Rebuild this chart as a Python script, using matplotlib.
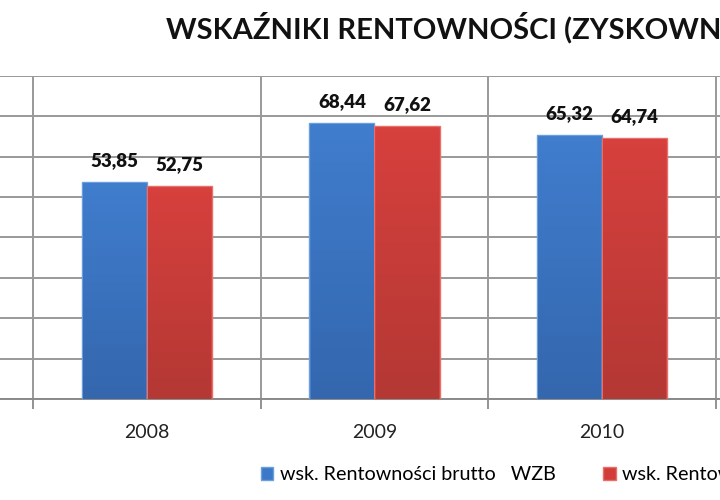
import numpy as np
import matplotlib.pyplot as plt
from matplotlib.colors import LinearSegmentedColormap

plt.rcParams['font.family'] = ['Lato', 'DejaVu Sans']

years = ['2008', '2009', '2010']
brutto = [53.85, 68.44, 65.32]
netto = [52.75, 67.62, 64.74]
labels = ['wsk. Rentowności brutto   WZB', 'wsk. Rentowności netto   WZN']
title = 'WSKAŹNIKI RENTOWNOŚCI (ZYSKOWNOŚCI)'

fig = plt.figure(figsize=(7.2, 5), dpi=100)
ax = fig.add_axes([0, 0.202, 1, 0.646])

x = np.arange(len(years))
w = 0.286
b1 = ax.bar(x - w / 2, brutto, w, color='#3C78C8', edgecolor='#6A9FE0', linewidth=1.0, zorder=3, label=labels[0])
b2 = ax.bar(x + w / 2, netto, w, color='#D23D3A', edgecolor='#E8706B', linewidth=1.0, zorder=3, label=labels[1])

# soft vertical shading on every bar
for cont, top, bot in [(b1, '#407DCD', '#3467AE'), (b2, '#D6403D', '#B43834')]:
    cm = LinearSegmentedColormap.from_list('g', [bot, top])
    for r in cont:
        x0, h, wd = r.get_x(), r.get_height(), r.get_width()
        grad = np.linspace(1, 0, 50).reshape(-1, 1)
        im = ax.imshow(grad, extent=[x0 + 0.006, x0 + wd - 0.006, 0, h - 0.5], aspect='auto',
                       cmap=cm, zorder=3.5)
        im.set_clip_path(r)

for xs, vals in [(x - w / 2, brutto), (x + w / 2, netto)]:
    for xi, v in zip(xs, vals):
        ax.text(xi, v + 3.2, f'{v:.2f}'.replace('.', ','), ha='center', va='bottom',
                fontsize=13.5, fontweight='heavy', color='#111111', zorder=5)

ax.set_xlim(-0.646, 2.519)
ax.set_ylim(0, 80)
ax.set_yticks(np.arange(0, 81, 10))
ax.set_yticklabels([])
ax.tick_params(axis='y', length=0)
ax.set_xticks(x)
ax.set_xticklabels(years, fontsize=14, color='#222222')
ax.set_xticks(np.arange(-0.5, 3.0, 1.0), minor=True)
ax.tick_params(axis='x', which='major', length=0, pad=18)
ax.tick_params(axis='x', which='minor', length=7, width=1.3, color='#8a8a8a', direction='out')
ax.grid(axis='y', color='#999999', linewidth=1.4, zorder=0)
ax.grid(axis='x', which='minor', color='#999999', linewidth=1.4, zorder=0)
for s in ['left', 'right', 'top']:
    ax.spines[s].set_visible(False)
ax.spines['bottom'].set_color('#8a8a8a')
ax.spines['bottom'].set_linewidth(1.4)

fig.text(166 / 720, 1 - 38 / 500, title, ha='left', va='baseline',
         fontsize=21, fontweight='bold', color='#111111')

fig.legend(handles=[b1, b2], labels=labels, loc='center left', bbox_to_anchor=(261 / 720, 1 - 475 / 500),
           ncol=2, frameon=False, fontsize=14.2, handlelength=0.62, handleheight=0.62,
           handletextpad=0.35, columnspacing=2.4, borderpad=0, borderaxespad=0)

fig.savefig('out.png', dpi=100)
